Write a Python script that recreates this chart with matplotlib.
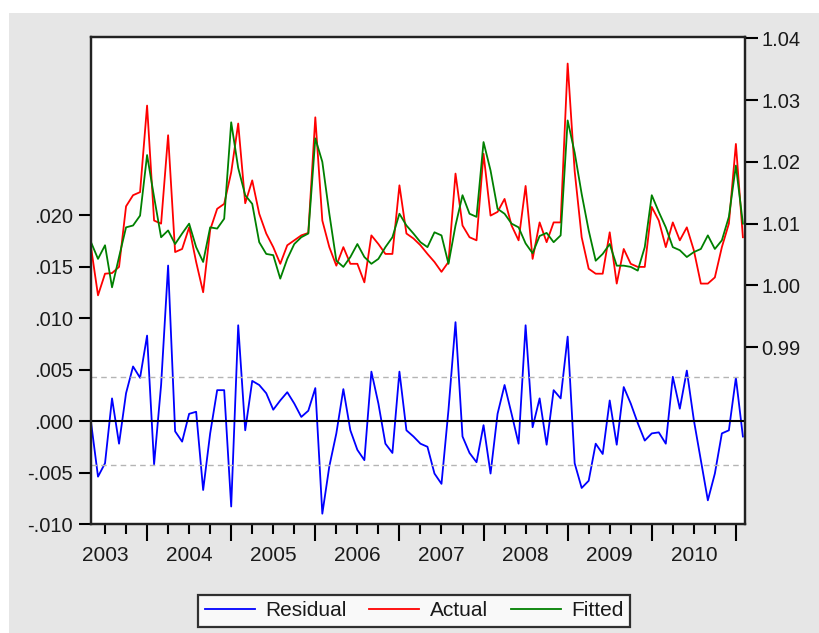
import numpy as np
import matplotlib
matplotlib.use("Agg")
import matplotlib.pyplot as plt
from matplotlib.patches import Rectangle

# monthly observations, first one is 2003M05
start_year = 2003
start_month = 5

actual = [
    1.0062, 0.9984, 1.0019, 1.0020, 1.0030, 1.0128, 1.0146, 1.0151, 1.0291, 1.0105,
    1.0100, 1.0243, 1.0054, 1.0059, 1.0094, 1.0038, 0.9989, 1.0090, 1.0124, 1.0132,
    1.0183, 1.0262, 1.0133, 1.0170, 1.0116, 1.0084, 1.0062, 1.0035, 1.0065, 1.0073,
    1.0081, 1.0085, 1.0272, 1.0105, 1.0062, 1.0032, 1.0062, 1.0035, 1.0035, 1.0005,
    1.0081, 1.0067, 1.0051, 1.0051, 1.0162, 1.0084, 1.0076, 1.0065, 1.0051, 1.0038,
    1.0022, 1.0038, 1.0181, 1.0097, 1.0078, 1.0073, 1.0213, 1.0113, 1.0119, 1.0140,
    1.0097, 1.0073, 1.0161, 1.0043, 1.0102, 1.0070, 1.0102, 1.0102, 1.0359, 1.0185,
    1.0078, 1.0027, 1.0019, 1.0019, 1.0086, 1.0003, 1.0059, 1.0035, 1.0030, 1.0030,
    1.0127, 1.0105, 1.0062, 1.0102, 1.0073, 1.0094, 1.0057, 1.0003, 1.0003, 1.0013,
    1.0062, 1.0100, 1.0229, 1.0078,
]

fitted = [
    1.0070, 1.0043, 1.0065, 0.9997, 1.0046, 1.0094, 1.0097, 1.0113, 1.0211, 1.0143,
    1.0078, 1.0089, 1.0067, 1.0084, 1.0100, 1.0062, 1.0038, 1.0094, 1.0092, 1.0108,
    1.0264, 1.0190, 1.0146, 1.0132, 1.0070, 1.0051, 1.0049, 1.0011, 1.0043, 1.0067,
    1.0078, 1.0084, 1.0238, 1.0200, 1.0116, 1.0040, 1.0030, 1.0046, 1.0067, 1.0046,
    1.0035, 1.0043, 1.0062, 1.0078, 1.0116, 1.0097, 1.0084, 1.0070, 1.0062, 1.0086,
    1.0081, 1.0035, 1.0097, 1.0146, 1.0116, 1.0111, 1.0232, 1.0186, 1.0124, 1.0116,
    1.0100, 1.0094, 1.0068, 1.0052, 1.0080, 1.0085, 1.0070, 1.0081, 1.0267, 1.0215,
    1.0148, 1.0089, 1.0040, 1.0051, 1.0067, 1.0032, 1.0032, 1.0030, 1.0024, 1.0062,
    1.0146, 1.0119, 1.0094, 1.0062, 1.0057, 1.0046, 1.0054, 1.0059, 1.0081, 1.0059,
    1.0073, 1.0111, 1.0194, 1.0100,
]

residual = [
    -0.0001, -0.0054, -0.0041, 0.0022, -0.0022, 0.0027, 0.0053, 0.0042, 0.0083, -0.0042,
    0.0035, 0.0151, -0.0010, -0.0020, 0.0007, 0.0009, -0.0067, -0.0012, 0.0030, 0.0030,
    -0.0083, 0.0093, -0.0009, 0.0039, 0.0035, 0.0027, 0.0011, 0.0020, 0.0028, 0.0017,
    0.0004, 0.0010, 0.0032, -0.0090, -0.0044, -0.0012, 0.0031, -0.0009, -0.0028, -0.0038,
    0.0048, 0.0017, -0.0022, -0.0031, 0.0048, -0.0009, -0.0015, -0.0022, -0.0025, -0.0051,
    -0.0061, 0.0011, 0.0096, -0.0015, -0.0031, -0.0040, -0.0004, -0.0051, 0.0007, 0.0035,
    0.0007, -0.0022, 0.0093, -0.0006, 0.0022, -0.0023, 0.0030, 0.0022, 0.0082, -0.0041,
    -0.0065, -0.0058, -0.0022, -0.0032, 0.0020, -0.0023, 0.0033, 0.0017, -0.0002, -0.0019,
    -0.0012, -0.0011, -0.0022, 0.0043, 0.0012, 0.0049, 0.0001, -0.0038, -0.0077, -0.0051,
    -0.0012, -0.0009, 0.0042, -0.0015,
]

resid_band = 0.0043  # one standard error, dashed lines

years = list(range(2003, 2011))
left_ticks = [-0.010, -0.005, 0.000, 0.005, 0.010, 0.015, 0.020]
left_labels = ["-.010", "-.005", ".000", ".005", ".010", ".015", ".020"]
right_ticks = [0.99, 1.00, 1.01, 1.02, 1.03, 1.04]
right_labels = ["0.99", "1.00", "1.01", "1.02", "1.03", "1.04"]

plt.rcParams["font.family"] = ["Liberation Sans", "DejaVu Sans"]
text_color = "#1a1a1a"

x = np.arange(len(actual))
offset = start_month - 1  # months between January of start_year and first obs


def month_pos(year, month):
    return (year - start_year) * 12 + (month - 1) - offset


fig = plt.figure(figsize=(8.19, 6.33), dpi=100, facecolor="white")
fig.patches.append(Rectangle((9 / 819, 0), 1, 1 - 13 / 633, transform=fig.transFigure,
                             facecolor="#e6e6e6", edgecolor="none", zorder=-10))

ax = fig.add_axes([91 / 819, 1 - 524 / 633, (745 - 91) / 819, (524 - 37) / 633])
ax2 = ax.twinx()

ax.plot(x, residual, color="#0000ff", lw=1.3, label="Residual")
ax.axhline(0, color="black", lw=1.5)
ax.axhline(resid_band, color="#b4b4b4", lw=1.0, ls=(0, (4, 3)))
ax.axhline(-resid_band, color="#b4b4b4", lw=1.0, ls=(0, (4, 3)))

ax2.plot(x, actual, color="#ff0000", lw=1.3, label="Actual")
ax2.plot(x, fitted, color="#008000", lw=1.3, label="Fitted")

ax.set_xlim(0, 93.3)
ax.set_ylim(-0.0100, 0.0373)
ax2.set_ylim(0.9614, 1.0402)

ax.set_yticks(left_ticks)
ax.set_yticklabels(left_labels)
ax2.set_yticks(right_ticks)
ax2.set_yticklabels(right_labels)

# x ticks: long at January, short at each quarter
year_starts = [month_pos(y, 1) for y in range(start_year + 1, 2012)]
quarter_starts = [month_pos(y, m) for y in range(start_year, 2012) for m in (1, 4, 7, 10)]
quarter_starts = [q for q in quarter_starts if 0 <= q <= 93.3 and q not in year_starts]
ax.set_xticks(year_starts)
ax.set_xticks(quarter_starts, minor=True)
ax.tick_params(axis="x", which="major", length=12, width=1.5, labelbottom=False)
ax.tick_params(axis="x", which="minor", length=7, width=1.5)

sec = ax.secondary_xaxis("bottom")
sec.set_xticks([month_pos(y, 7) for y in years])
sec.set_xticklabels([str(y) for y in years])
sec.tick_params(length=0, pad=16, labelsize=15, labelcolor=text_color)
sec.spines["bottom"].set_visible(False)

ax.tick_params(axis="y", length=9, width=1.5, pad=4, labelsize=14.5, labelcolor=text_color)
ax2.tick_params(axis="y", length=9, width=1.5, pad=3, labelsize=14.5, labelcolor=text_color)

for a in (ax, ax2):
    for s in a.spines.values():
        s.set_linewidth(1.6)
        s.set_color("#222222")

handles = ax.get_lines()[:1] + ax2.get_lines()
leg = fig.legend(handles, ["Residual", "Actual", "Fitted"], ncol=3, loc="center",
                 bbox_to_anchor=(414 / 819, 1 - 611 / 633), frameon=True, fancybox=False,
                 handlelength=2.4, columnspacing=1.1, handletextpad=0.5, fontsize=15,
                 borderpad=0.3, borderaxespad=0)
for t in leg.get_texts():
    t.set_color(text_color)
leg.get_frame().set_edgecolor("black")
leg.get_frame().set_linewidth(1.6)

fig.savefig("out.png", dpi=100, facecolor=fig.get_facecolor())
